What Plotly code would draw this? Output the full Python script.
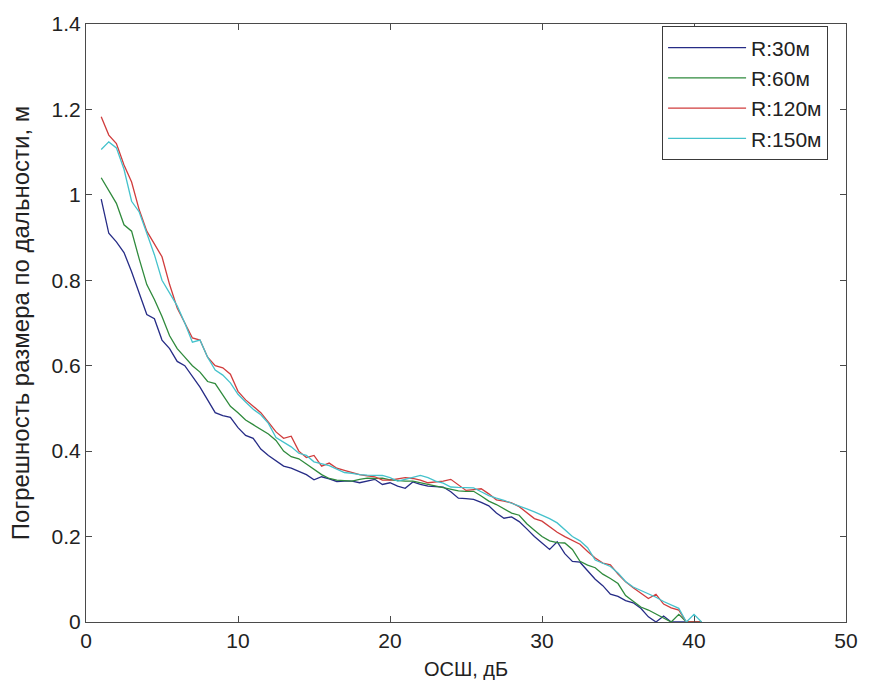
import plotly.graph_objects as go

snr = [1 + 0.5 * i for i in range(80)]

r30 = [0.99, 0.91, 0.89, 0.865, 0.82, 0.77, 0.72, 0.71, 0.66, 0.64,
       0.61, 0.60, 0.575, 0.55, 0.52, 0.49, 0.483, 0.479, 0.455, 0.437,
       0.43, 0.405, 0.39, 0.378, 0.365, 0.36, 0.352, 0.345, 0.333, 0.34,
       0.335, 0.329, 0.33, 0.33, 0.326, 0.33, 0.334, 0.322, 0.326, 0.318,
       0.313, 0.328, 0.322, 0.318, 0.317, 0.316, 0.305, 0.29, 0.289, 0.287,
       0.28, 0.272, 0.255, 0.243, 0.246, 0.235, 0.218, 0.2, 0.185, 0.17,
       0.188, 0.16, 0.142, 0.14, 0.12, 0.1, 0.085, 0.065, 0.06, 0.05,
       0.045, 0.032, 0.012, 0.0, 0.014, 0.0, 0.0, 0.0, 0.0, 0.0]

r60 = [1.04, 1.01, 0.98, 0.93, 0.915, 0.85, 0.79, 0.755, 0.715, 0.67,
       0.64, 0.62, 0.60, 0.585, 0.563, 0.558, 0.53, 0.505, 0.49, 0.473,
       0.462, 0.452, 0.44, 0.425, 0.40, 0.387, 0.382, 0.37, 0.357, 0.345,
       0.336, 0.332, 0.331, 0.33, 0.334, 0.337, 0.336, 0.337, 0.333, 0.331,
       0.33, 0.33, 0.326, 0.322, 0.318, 0.314, 0.31, 0.307, 0.306, 0.306,
       0.295, 0.283, 0.275, 0.265, 0.255, 0.25, 0.23, 0.215, 0.20, 0.19,
       0.186, 0.185, 0.17, 0.142, 0.133, 0.127, 0.112, 0.102, 0.09, 0.062,
       0.048, 0.035, 0.028, 0.018, 0.008, 0.0, 0.018, 0.0, 0.0, 0.0]

r120 = [1.183, 1.14, 1.12, 1.07, 1.03, 0.965, 0.915, 0.885, 0.855, 0.79,
        0.735, 0.70, 0.665, 0.66, 0.62, 0.60, 0.595, 0.58, 0.54, 0.52,
        0.505, 0.49, 0.468, 0.445, 0.43, 0.435, 0.40, 0.385, 0.39, 0.365,
        0.372, 0.36, 0.355, 0.35, 0.345, 0.342, 0.34, 0.332, 0.332, 0.335,
        0.338, 0.336, 0.332, 0.326, 0.328, 0.33, 0.334, 0.32, 0.308, 0.31,
        0.312, 0.30, 0.286, 0.283, 0.279, 0.27, 0.255, 0.242, 0.236, 0.222,
        0.21, 0.20, 0.19, 0.182, 0.165, 0.15, 0.138, 0.134, 0.112, 0.094,
        0.08, 0.068, 0.055, 0.065, 0.042, 0.033, 0.028, 0.0, 0.0, 0.0]

r150 = [1.106, 1.124, 1.11, 1.06, 0.985, 0.96, 0.91, 0.86, 0.80, 0.77,
        0.74, 0.70, 0.655, 0.66, 0.62, 0.59, 0.578, 0.56, 0.533, 0.515,
        0.498, 0.485, 0.465, 0.432, 0.42, 0.41, 0.395, 0.39, 0.375, 0.37,
        0.366, 0.358, 0.35, 0.348, 0.345, 0.344, 0.343, 0.343, 0.338, 0.33,
        0.334, 0.338, 0.343, 0.338, 0.33, 0.325, 0.316, 0.315, 0.315, 0.314,
        0.305, 0.296, 0.29, 0.285, 0.278, 0.272, 0.265, 0.258, 0.25, 0.242,
        0.232, 0.216, 0.20, 0.19, 0.174, 0.145, 0.137, 0.13, 0.115, 0.095,
        0.082, 0.074, 0.066, 0.058, 0.048, 0.04, 0.032, 0.0, 0.018, 0.0]

series = [("R:30м", r30, "#262c86"),
          ("R:60м", r60, "#2f8a3c"),
          ("R:120м", r120, "#d03c3c"),
          ("R:150м", r150, "#45c2cc")]

x_ticks = [0, 10, 20, 30, 40, 50]
y_ticks = [0, 0.2, 0.4, 0.6, 0.8, 1, 1.2, 1.4]
y_tick_text = ["0", "0.2", "0.4", "0.6", "0.8", "1", "1.2", "1.4"]

FONT = "Liberation Sans, Arial"

fig = go.Figure()
for name, vals, col in series:
    fig.add_trace(go.Scatter(x=snr, y=vals, mode="lines", name=name,
                             line=dict(color=col, width=1.3)))

axis_common = dict(showline=True, linecolor="#4a4a4a", linewidth=1, mirror="ticks",
                   ticks="inside", ticklen=6, tickcolor="#4a4a4a", tickwidth=1,
                   showgrid=False, zeroline=False,
                   tickfont=dict(family=FONT, size=21, color="#222"))

fig.update_layout(
    width=872, height=689,
    margin=dict(l=86, r=26, t=17, b=67),
    paper_bgcolor="white", plot_bgcolor="white",
    font=dict(family=FONT, color="#222"),
    xaxis=dict(range=[0, 50], tickvals=x_ticks, ticktext=[str(v) for v in x_ticks],
               title=dict(text="ОСШ, дБ", font=dict(size=20), standoff=10),
               **axis_common),
    yaxis=dict(range=[0, 1.4], tickvals=y_ticks, ticktext=y_tick_text,
               title=dict(text="Погрешность размера по дальности, м", font=dict(size=24), standoff=15),
               **axis_common),
    legend=dict(x=0.758, y=0.996, xanchor="left", yanchor="top",
                bgcolor="white", bordercolor="#3a3a3a", borderwidth=1,
                font=dict(size=21, family=FONT, color="#222"),
                itemwidth=78, tracegroupgap=0),
    showlegend=True,
)

fig.write_html("out.html")
